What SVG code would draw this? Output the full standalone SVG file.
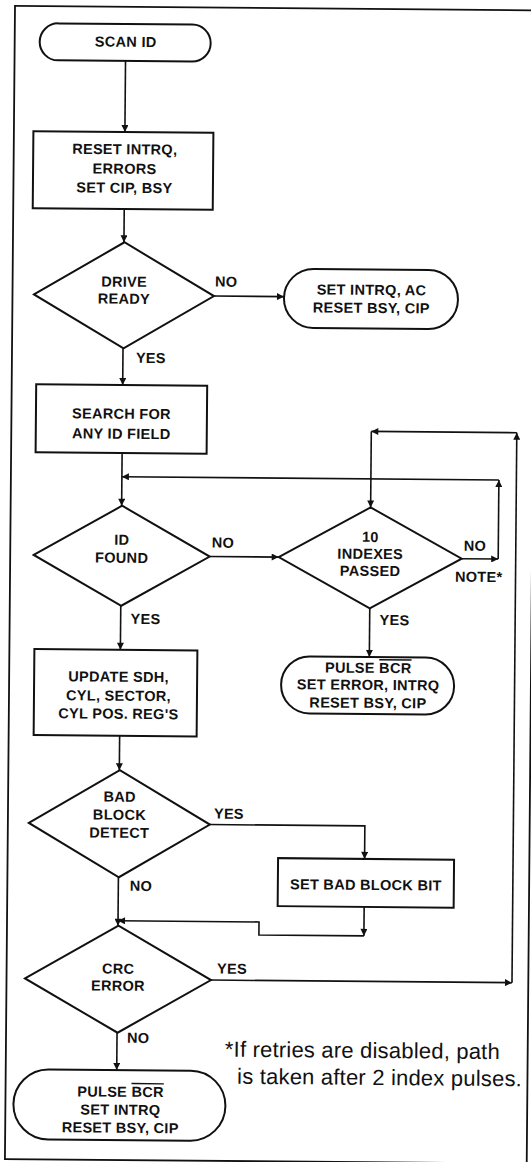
<svg xmlns="http://www.w3.org/2000/svg" width="531" height="1162" viewBox="0 0 531 1162">
<style>
.sh{fill:#fff;stroke:#111;stroke-width:2}
.cn{fill:none;stroke:#111;stroke-width:1.6}
.t{font-family:"Liberation Sans",Arial,sans-serif;font-size:14.5px;font-weight:bold;letter-spacing:0.3px;fill:#111;text-anchor:middle}
.l{font-family:"Liberation Sans",Arial,sans-serif;font-size:14.5px;font-weight:bold;letter-spacing:0.3px;fill:#111}
.fn{font-family:"Liberation Sans",Arial,sans-serif;font-size:22px;letter-spacing:0.2px;fill:#111}
.ov{text-decoration:overline}
.fr{fill:none;stroke:#111;stroke-width:1.8}
</style>
<defs>
<marker id="ah" viewBox="0 0 10 10" refX="10" refY="5" markerWidth="9" markerHeight="7" markerUnits="userSpaceOnUse" orient="auto"><path d="M0,0 L10,5 L0,10 z" fill="#111"/></marker>
</defs>
<rect x="0" y="0" width="531" height="1162" fill="#fff"/>
<g transform="rotate(0.5 265 580)">
<rect class="fr" x="10" y="8" width="521.8" height="1153.3"/>
<g id="connectors">
<line class="cn" x1="121" y1="62.2" x2="121" y2="133.3" marker-end="url(#ah)"/>
<line class="cn" x1="121" y1="210.3" x2="121" y2="243.5" marker-end="url(#ah)"/>
<line class="cn" x1="211.5" y1="296.5" x2="281.5" y2="296.5" marker-end="url(#ah)"/>
<line class="cn" x1="121" y1="349.5" x2="121" y2="386.3" marker-end="url(#ah)"/>
<line class="cn" x1="121" y1="454.3" x2="121" y2="507" marker-end="url(#ah)"/>
<line class="cn" x1="209.5" y1="557" x2="278.5" y2="557" marker-end="url(#ah)"/>
<line class="cn" x1="461.5" y1="557" x2="498" y2="557" marker-end="url(#ah)"/>
<line class="cn" x1="498" y1="557" x2="498" y2="478" marker-end="url(#ah)"/>
<line class="cn" x1="498" y1="478" x2="121" y2="478" marker-end="url(#ah)"/>
<line class="cn" x1="121" y1="607" x2="121" y2="651" marker-end="url(#ah)"/>
<line class="cn" x1="370" y1="607.5" x2="370" y2="656" marker-end="url(#ah)"/>
<line class="cn" x1="121" y1="737" x2="121" y2="771.5" marker-end="url(#ah)"/>
<polyline class="cn" points="212,825 367,825 367,858" marker-end="url(#ah)"/>
<line class="cn" x1="367" y1="906" x2="367" y2="935" marker-end="url(#ah)"/>
<polyline class="cn" points="367,935 262,935 262,922 121,922" marker-end="url(#ah)"/>
<line class="cn" x1="121" y1="878.5" x2="121" y2="927" marker-end="url(#ah)"/>
<line class="cn" x1="214.5" y1="980.5" x2="515.5" y2="980.5" marker-end="url(#ah)"/>
<line class="cn" x1="515.5" y1="980.5" x2="515.5" y2="430.5" marker-end="url(#ah)"/>
<line class="cn" x1="515.5" y1="430.5" x2="370" y2="430.5" marker-end="url(#ah)"/>
<line class="cn" x1="370" y1="430.5" x2="370" y2="506.5" marker-end="url(#ah)"/>
<line class="cn" x1="121" y1="1034" x2="121" y2="1071.3" marker-end="url(#ah)"/>
</g>
<g id="scan-id">
<rect class="sh" x="35" y="25.2" width="171" height="37" rx="18.5"/>
<text class="t" x="121" y="48">SCAN ID</text>
</g>
<g id="reset-intrq">
<rect class="sh" x="29.5" y="133.3" width="180" height="77"/>
<text class="t" x="121" y="155.5">RESET INTRQ,</text>
<text class="t" x="121" y="175">ERRORS</text>
<text class="t" x="121" y="194">SET CIP, BSY</text>
</g>
<g id="drive-ready">
<polygon class="sh" points="31.5,296.5 121.5,243.5 211.5,296.5 121.5,349.5"/>
<text class="t" x="121.5" y="288">DRIVE</text>
<text class="t" x="121.5" y="305">READY</text>
</g>
<g id="set-intrq-ac">
<rect class="sh" x="281.5" y="268.5" width="174" height="59" rx="29.5"/>
<text class="t" x="369" y="294">SET INTRQ, AC</text>
<text class="t" x="369" y="312">RESET BSY, CIP</text>
</g>
<g id="search">
<rect class="sh" x="34.5" y="386.3" width="171" height="68"/>
<text class="t" x="120" y="420">SEARCH FOR</text>
<text class="t" x="120" y="440">ANY ID FIELD</text>
</g>
<g id="id-found">
<polygon class="sh" points="33.5,557 121.5,507 209.5,557 121.5,607"/>
<text class="t" x="121.5" y="546">ID</text>
<text class="t" x="121.5" y="564">FOUND</text>
</g>
<g id="indexes-passed">
<polygon class="sh" points="278.5,557 370,506.5 461.5,557 370,607.5"/>
<text class="t" x="370" y="541">10</text>
<text class="t" x="370" y="558">INDEXES</text>
<text class="t" x="370" y="575">PASSED</text>
</g>
<g id="pulse-bcr-error">
<rect class="sh" x="282" y="656" width="173" height="57" rx="28.5"/>
<text class="t" x="369" y="672">PULSE <tspan class="ov">BCR</tspan></text>
<text class="t" x="369" y="689">SET ERROR, INTRQ</text>
<text class="t" x="369" y="707">RESET BSY, CIP</text>
</g>
<g id="update-sdh">
<rect class="sh" x="35" y="651" width="163" height="86"/>
<text class="t" x="119.5" y="683">UPDATE SDH,</text>
<text class="t" x="119.5" y="702">CYL, SECTOR,</text>
<text class="t" x="119.5" y="720">CYL POS. REG'S</text>
</g>
<g id="bad-block-detect">
<polygon class="sh" points="31,825 121.5,771.5 212,825 121.5,878.5"/>
<text class="t" x="121.5" y="803">BAD</text>
<text class="t" x="121.5" y="821">BLOCK</text>
<text class="t" x="121.5" y="839">DETECT</text>
</g>
<g id="set-bad-block-bit">
<rect class="sh" x="280.5" y="858" width="176" height="48"/>
<text class="t" x="368.5" y="889">SET BAD BLOCK BIT</text>
</g>
<g id="crc-error">
<polygon class="sh" points="28.5,980.5 121.5,927 214.5,980.5 121.5,1034"/>
<text class="t" x="121.5" y="975">CRC</text>
<text class="t" x="121.5" y="992">ERROR</text>
</g>
<g id="pulse-bcr-end">
<rect class="sh" x="18" y="1071.3" width="212" height="70" rx="35"/>
<text class="t" x="125" y="1098">PULSE <tspan class="ov">BCR</tspan></text>
<text class="t" x="125" y="1116">SET INTRQ</text>
<text class="t" x="125" y="1134">RESET BSY, CIP</text>
</g>
<g id="labels">
<text class="l" x="212.5" y="287">NO</text>
<text class="l" x="134" y="364">YES</text>
<text class="l" x="211.5" y="548">NO</text>
<text class="l" x="463.5" y="549">NO</text>
<text class="l" x="455" y="580">NOTE*</text>
<text class="l" x="131" y="625">YES</text>
<text class="l" x="380" y="624">YES</text>
<text class="l" x="216" y="819">YES</text>
<text class="l" x="132.5" y="892">NO</text>
<text class="l" x="220.5" y="974">YES</text>
<text class="l" x="131" y="1044">NO</text>
</g>
<g id="footnote">
<text class="fn" x="229" y="1057">*If retries are disabled, path</text>
<text class="fn" x="241.5" y="1084">is taken after 2 index pulses.</text>
</g>
</g>
</svg>
